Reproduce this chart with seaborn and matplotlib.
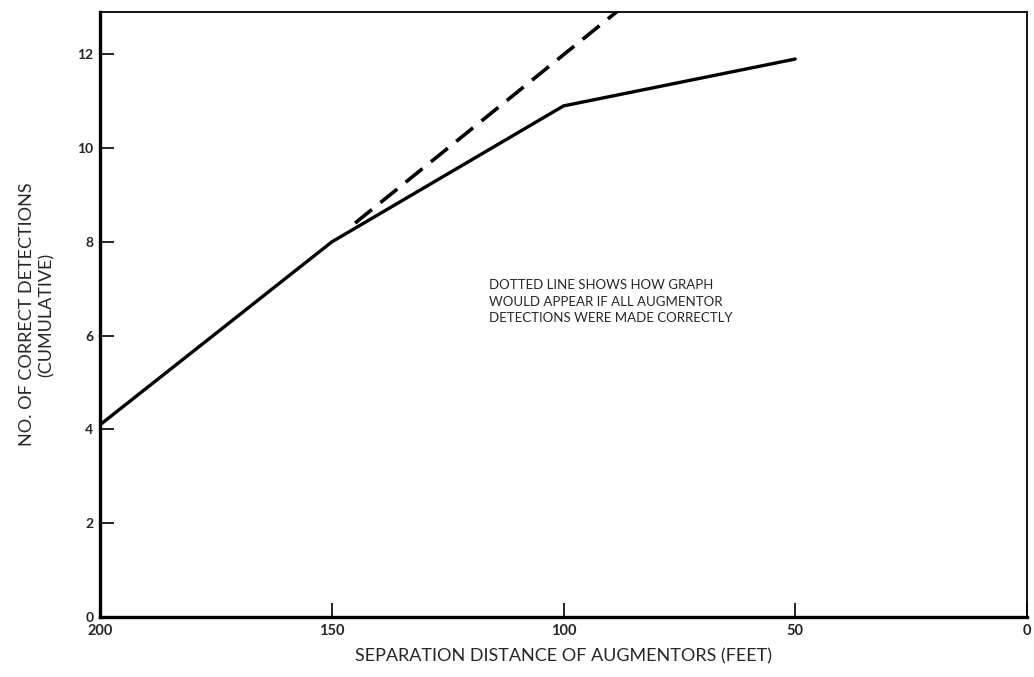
import matplotlib
matplotlib.use("Agg")
import matplotlib.pyplot as plt
import pandas as pd
import seaborn as sns

# ---------------------------------------------------------------------------
# Data
# ---------------------------------------------------------------------------
actual_dist = [200, 150, 100, 50]
actual_count = [4.1, 8.0, 10.9, 11.9]

ideal_dist = [145, 88]
ideal_count = [8.4, 12.95]

x_ticks = [200, 150, 100, 50, 0]
y_ticks = [0, 2, 4, 6, 8, 10, 12]

note_text = ("DOTTED LINE SHOWS HOW GRAPH\n"
             "WOULD APPEAR IF ALL AUGMENTOR\n"
             "DETECTIONS WERE MADE CORRECTLY")

actual = pd.DataFrame({"dist": actual_dist, "count": actual_count})
ideal = pd.DataFrame({"dist": ideal_dist, "count": ideal_count})

sns.set_style("ticks")
plt.rcParams["font.family"] = ["Lato", "DejaVu Sans"]

fig = plt.figure(figsize=(10.34, 6.77), dpi=100)
# right edge pulled in a touch so the "0" tick label stays on the canvas
ax = fig.add_axes([0.097, 0.089, 0.896, 0.893])

sns.lineplot(data=actual, x="dist", y="count", ax=ax, color="black",
             lw=2.4, sort=False, estimator=None)
sns.lineplot(data=ideal, x="dist", y="count", ax=ax, color="black",
             lw=2.6, sort=False, estimator=None, dashes=False,
             linestyle=(0, (6, 3)))

ax.set_xlim(200, 0)
ax.set_ylim(0, 12.9)
ax.set_xticks(x_ticks)
ax.set_yticks(y_ticks)
ax.set_xticklabels([str(t) for t in x_ticks], fontsize=10.5, fontweight="bold")
ax.set_yticklabels([str(t) for t in y_ticks], fontsize=10, fontweight="bold")
ax.tick_params(direction="in", length=10, width=1.2, color="black", pad=5)

for side in ["left", "bottom"]:
    ax.spines[side].set_linewidth(2.4)
for side in ["top", "right"]:
    ax.spines[side].set_linewidth(1.3)
for sp in ax.spines.values():
    sp.set_color("black")

ax.set_xlabel("SEPARATION DISTANCE OF AUGMENTORS (FEET)", fontsize=13, labelpad=8)
ax.set_ylabel("NO. OF CORRECT DETECTIONS\n(CUMULATIVE)", fontsize=13,
              labelpad=16, linespacing=1.3)

ax.text(116, 7.2, note_text, fontsize=9.5, va="top", ha="left",
        linespacing=1.45)

fig.savefig("out.png", dpi=100)
plt.close(fig)
